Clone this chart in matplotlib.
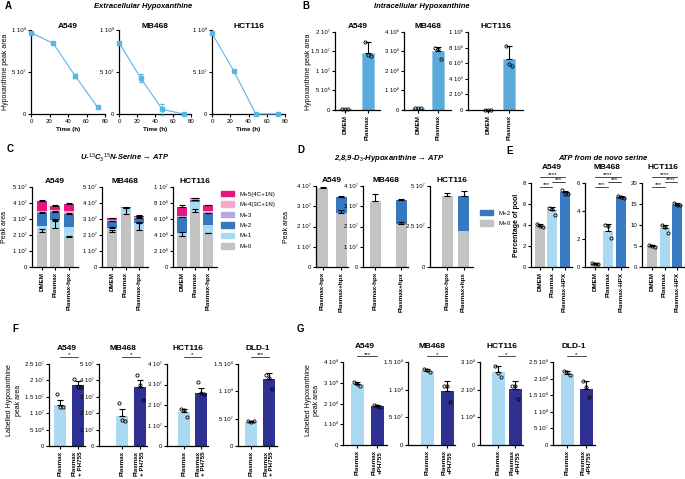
import numpy as np
import matplotlib
matplotlib.use("Agg")
import matplotlib.pyplot as plt
from matplotlib.patches import Patch

plt.rcParams['font.family'] = ['Liberation Sans', 'DejaVu Sans']
plt.rcParams['font.size'] = 4.5
plt.rcParams['axes.linewidth'] = 0.9
plt.rcParams['xtick.major.width'] = 0.8
plt.rcParams['ytick.major.width'] = 0.8
plt.rcParams['xtick.major.size'] = 2
plt.rcParams['ytick.major.size'] = 2
plt.rcParams['xtick.major.pad'] = 1.5
plt.rcParams['ytick.major.pad'] = 1.5
plt.rcParams['mathtext.fontset'] = 'custom'
plt.rcParams['mathtext.rm'] = 'Liberation Sans'
plt.rcParams['mathtext.it'] = 'Liberation Sans:italic:bold'
plt.rcParams['mathtext.bf'] = 'Liberation Sans:bold'

# ---------------- data ----------------
cells3 = ["A549", "MB468", "HCT116"]
cells4 = ["A549", "MB468", "HCT116", "DLD-1"]

# A: extracellular hypoxanthine over time
a_time = [0, 24, 48, 72]
a_vals = [[0.97e8, 0.84e8, 0.45e8, 0.08e8],
          [0.85e8, 0.43e8, 0.055e8, 0.0],
          [0.96e8, 0.51e8, 0.0, 0.0]]
a_err = [[0.01e8, 0.01e8, 0.025e8, 0.005e8],
         [0.01e8, 0.05e8, 0.07e8, 0.002e8],
         [0.01e8, 0.01e8, 0.002e8, 0.002e8]]

# B: intracellular hypoxanthine
b_groups = ["DMEM", "Plasmax"]
b_means = [[0.02e7, 1.45e7], [0.1e6, 3.0e6], [0.01e5, 6.6e5]]
b_err = [[0.0, 0.3e7], [0.0, 0.25e6], [0.0, 1.6e5]]
b_pts = [[[0.02e7, 0.02e7, 0.02e7], [1.75e7, 1.42e7, 1.38e7]],
         [[0.12e6, 0.1e6, 0.08e6], [3.2e6, 3.15e6, 2.6e6]],
         [[0.01e5, 0.01e5, 0.01e5], [8.2e5, 5.9e5, 5.6e5]]]
b_ymax = [2e7, 4e6, 1e6]
b_step = [0.5e7, 1e6, 2e5]

# C: serine -> ATP isotopologues (segments M+0..M+5)
c_groups = ["DMEM", "Plasmax", "Plasmax-hpx"]
c_labels = ["M+0", "M+1", "M+2", "M+3", "M+4(3C+1N)", "M+5(4C+1N)"]
c_seg = [
    [[2.2e7, 0.35e7, 0.85e7, 0.02e7, 0.08e7, 0.65e7],
     [2.45e7, 0.5e7, 0.5e7, 0.02e7, 0.08e7, 0.25e7],
     [1.9e7, 0.6e7, 0.8e7, 0.02e7, 0.18e7, 0.45e7]],
    [[2.2e7, 0.25e7, 0.4e7, 0.01e7, 0.06e7, 0.13e7],
     [3.3e7, 0.4e7, 0.02e7, 0.0, 0.0, 0.0],
     [2.3e7, 0.45e7, 0.3e7, 0.01e7, 0.06e7, 0.08e7]],
    [[3.9e6, 0.4e6, 1.9e6, 0.02e6, 0.13e6, 1.15e6],
     [6.9e6, 1.2e6, 0.25e6, 0.02e6, 0.08e6, 0.15e6],
     [4.2e6, 1.1e6, 1.4e6, 0.02e6, 0.28e6, 0.7e6]]]
c_err = [
    [[0.15e7, 0.0, 0.05e7, 0.0, 0.0, 0.05e7],
     [0.4e7, 0.05e7, 0.05e7, 0.0, 0.0, 0.05e7],
     [0.05e7, 0.0, 0.05e7, 0.0, 0.0, 0.05e7]],
    [[0.1e7, 0.05e7, 0.05e7, 0.0, 0.0, 0.03e7],
     [0.4e7, 0.02e7, 0.0, 0.0, 0.0, 0.0],
     [0.45e7, 0.05e7, 0.05e7, 0.0, 0.0, 0.03e7]],
    [[0.5e6, 0.0, 0.1e6, 0.0, 0.0, 0.2e6],
     [0.3e6, 0.0, 0.05e6, 0.0, 0.0, 0.05e6],
     [0.1e6, 0.0, 0.1e6, 0.0, 0.0, 0.1e6]]]
c_ymax = [5e7, 5e7, 1e7]
c_step = [1e7, 1e7, 2e6]

# D: D3-hypoxanthine -> ATP
d_groups = ["Plasmax-hpx", "Plasmax+hpx"]
d_m0 = [[3.9e7, 2.65e7], [3.25e7, 2.1e7], [4.4e7, 2.2e7]]
d_m2 = [[0.0, 0.8e7], [0.0, 1.2e7], [0.0, 2.2e7]]
d_m0_err = [[0.05e7, 0.15e7], [0.35e7, 0.12e7], [0.15e7, 0.0]]
d_m2_err = [[0.0, 0.05e7], [0.0, 0.05e7], [0.0, 0.3e7]]
d_ymax = [4e7, 4e7, 5e7]
d_step = [1e7, 1e7, 2.5e7]

# E: ATP from de novo serine (% of pool)
e_groups = ["DMEM", "Plasmax", "Plasmax-HPX"]
e_means = [[3.9, 5.4, 7.1], [0.25, 2.6, 5.0], [5.0, 9.2, 14.8]]
e_err = [[0.15, 0.3, 0.15], [0.05, 0.5, 0.1], [0.2, 0.8, 0.4]]
e_pts = [[[4.1, 3.9, 3.8], [5.6, 5.5, 5.0], [7.3, 7.0, 7.0]],
         [[0.3, 0.25, 0.2], [3.0, 2.9, 2.1], [5.1, 5.0, 4.9]],
         [[5.2, 4.9, 4.8], [10.0, 9.6, 8.2], [15.3, 14.8, 14.7]]]
e_ymax = [8, 6, 20]
e_step = [2, 2, 5]
e_sig = [("***", 0, 1), ("****", 0, 2), ("***", 1, 2)]
e_sig_hct = [("***", 0, 1), ("****", 0, 2), ("****", 1, 2)]

# F: labelled hypoxanthine (PH755)
f_groups = ["Plasmax", "Plasmax\n+ PH755"]
f_means = [[1.25e7, 1.85e7], [1.85e7, 3.6e7], [1.65e7, 2.6e7], [4.4e7, 1.22e8]]
f_err = [[0.15e7, 0.12e7], [0.4e7, 0.4e7], [0.15e7, 0.25e7], [0.2e7, 0.12e8]]
f_pts = [[[1.6e7, 1.2e7, 1.2e7], [2.05e7, 1.8e7, 1.8e7]],
         [[2.6e7, 1.6e7, 1.5e7], [4.3e7, 3.75e7, 2.8e7]],
         [[1.8e7, 1.75e7, 1.4e7], [3.1e7, 2.6e7, 2.55e7]],
         [[4.6e7, 4.3e7, 4.5e7], [1.3e8, 1.25e8, 1.05e8]]]
f_ymax = [2.5e7, 5e7, 4e7, 1.5e8]
f_step = [5e6, 1e7, 1e7, 5e7]
f_sig = ["*", "*", "*", "***"]

# G: labelled hypoxanthine (PH755), second set
g_groups = ["Plasmax", "Plasmax\n+PH755"]
g_means = [[2.95e8, 1.9e8], [1.33e8, 0.97e8], [2.65e8, 2.02e8], [2.15e8, 1.68e8]]
g_err = [[0.08e8, 0.03e8], [0.04e8, 0.18e8], [0.2e8, 0.3e8], [0.08e8, 0.25e8]]
g_pts = [[[3.05e8, 2.95e8, 2.85e8], [1.95e8, 1.9e8, 1.85e8]],
         [[1.37e8, 1.36e8, 1.32e8], [1.07e8, 1.07e8, 0.78e8]],
         [[2.85e8, 2.6e8, 2.45e8], [2.15e8, 2.15e8, 1.65e8]],
         [[2.22e8, 2.2e8, 2.12e8], [1.92e8, 1.75e8, 1.45e8]]]
g_ymax = [4e8, 1.5e8, 3e8, 2.5e8]
g_step = [1e8, 5e7, 1e8, 5e7]
g_sig = ["***", "*", "*", "*"]

# ---------------- styling ----------------
W, H = 685, 479
fig = plt.figure(figsize=(W / 100, H / 100), dpi=100)

line_blue = "#5ab4e6"
bar_blue = "#5aaadb"
iso_colors = ["#c3c3c3", "#a9daf1", "#3678c0", "#b7a6e4", "#f5a8cc", "#e4177f"]
e_colors = ["#c3c3c3", "#a9daf1", "#3a7cc3"]
f_colors = ["#a9daf1", "#2e3192"]

SUP = str.maketrans("0123456789-", "⁰¹²³⁴⁵⁶⁷⁸⁹⁻")


def sci(v):
    if v == 0:
        return "0"
    e = int(np.floor(np.log10(abs(v)) + 1e-9))
    m = v / 10 ** e
    return f"{m:g} 10" + str(e).translate(SUP)


def ftext(x, y, s, **kw):
    fig.text(x / W, 1 - y / H, s, **kw)


def px_axes(l, r, t, b):
    ax = fig.add_axes([l / W, 1 - b / H, (r - l) / W, (b - t) / H])
    ax.spines['top'].set_visible(False)
    ax.spines['right'].set_visible(False)
    return ax


def bar_axes(l, r, t, b, c0, c1, n=2):
    # c0: centre of first bar, c1: centre of last bar (pixels)
    ax = px_axes(l, r, t, b)
    unit = (c1 - c0) / (n - 1)
    ax.set_xlim((l - c0) / unit, (r - c0) / unit)
    return ax, unit


def yticks(ax, ymax, step):
    ticks = np.arange(0, ymax + step / 2, step)
    ax.set_ylim(0, ymax)
    ax.set_yticks(ticks)
    ax.set_yticklabels([sci(t) for t in ticks], fontsize=4.3)


def xcats(ax, labels):
    ax.set_xticks(range(len(labels)))
    ax.set_xticklabels(labels, rotation=90, fontsize=4.5, fontweight="bold")


def dots(ax, x, pts, unit):
    offs = np.array([-3.0, 0.0, 3.0]) / unit
    ax.plot(x + offs[:len(pts)], pts, "o", ms=2.3, mfc="none", mec="k", mew=0.6,
            clip_on=False, zorder=5)


def err_up(ax, x, y, e):
    if e > 0:
        ax.errorbar(x, y, yerr=[[0], [e]], fmt="none", ecolor="k", elinewidth=0.8,
                    capsize=2, capthick=0.8, zorder=4, clip_on=False)


def sig(ax, x0, x1, yfrac, s):
    tr = ax.get_xaxis_transform()
    ax.plot([x0, x1], [yfrac, yfrac], color="k", lw=0.5, transform=tr, clip_on=False)
    ax.text((x0 + x1) / 2, yfrac - 0.005, s, transform=tr, ha="center", va="bottom",
            fontsize=4.5, clip_on=False)


def title(ax, s, pad=3):
    ax.set_title(s, fontsize=6, fontweight="bold", pad=pad)


# ---------------- panel letters / headers ----------------
for (x, y, s) in [(5, 6, "A"), (302, 6, "B"), (7, 149, "C"), (297, 150, "D"),
                  (506, 151, "E"), (12, 329, "F"), (297, 329, "G")]:
    ftext(x, y, s, fontsize=7, fontweight="bold", ha="left", va="center")

hdr = dict(fontsize=5.5, style="italic", fontweight="bold", ha="center", va="center")
ftext(143, 6, "Extracellular Hypoxanthine", **hdr)
ftext(422, 6, "Intracellular Hypoxanthine", **hdr)
ftext(125, 158, "U-$^{13}$C$_3$$^{15}$N-Serine → ATP", **hdr)
ftext(389, 158, "2,8,9-D$_3$-Hypoxanthine → ATP", **hdr)
ftext(603, 158, "ATP from de novo serine", **hdr)

# ---------------- A ----------------
a_box = [(31, 105), (119, 191), (212, 285)]
for i, (l, r) in enumerate(a_box):
    ax = px_axes(l, r, 30, 114)
    ax.errorbar(a_time, a_vals[i], yerr=a_err[i], color=line_blue, marker="s", ms=2.2,
                lw=0.8, elinewidth=0.6, capsize=1.5, clip_on=False, zorder=3)
    ax.set_xlim(0, 80)
    ax.set_xticks([0, 20, 40, 60, 80])
    ax.tick_params(axis="x", labelsize=4.3)
    yticks(ax, 1e8, 5e7)
    ax.set_xlabel("Time (h)", fontsize=4.5, fontweight="bold", labelpad=2)
    title(ax, cells3[i], pad=0)
ftext(6, 72, "Hypoxanthine peak area", rotation=90, fontsize=5, ha="center", va="center")

# ---------------- B ----------------
b_box = [(335, 380, 345, 367.5), (404, 451, 418, 438), (468, 523, 488, 509)]
for i, (l, r, c0, c1) in enumerate(b_box):
    ax, unit = bar_axes(l, r, 32, 110, c0, c1)
    x = np.arange(2)
    ax.bar(x, b_means[i], width=12 / unit, color=bar_blue, edgecolor="#8cc6ea", lw=0.5)
    for j in range(2):
        err_up(ax, j, b_means[i][j], b_err[i][j])
        dots(ax, j, b_pts[i][j], unit)
    yticks(ax, b_ymax[i], b_step[i])
    xcats(ax, b_groups)
    title(ax, cells3[i])
ftext(309, 72, "Hypoxanthine peak area", rotation=90, fontsize=5, ha="center", va="center")

# ---------------- C ----------------
c_box = [(32, 78, 42, 69), (102, 148, 112, 139), (173, 217, 182, 208)]
for i, (l, r, c0, c2) in enumerate(c_box):
    ax, unit = bar_axes(l, r, 187, 267, c0, c2, n=3)
    x = np.arange(3)
    seg = np.array(c_seg[i])
    err = np.array(c_err[i])
    bottom = np.zeros(3)
    for k in range(6):
        ax.bar(x, seg[:, k], bottom=bottom, width=10 / unit, color=iso_colors[k], lw=0)
        top = bottom + seg[:, k]
        for j in range(3):
            err_up(ax, j, top[j], err[j, k])
        bottom = top
    yticks(ax, c_ymax[i], c_step[i])
    xcats(ax, c_groups)
    title(ax, cells3[i])
ftext(5, 227, "Peak area", rotation=90, fontsize=5, ha="center", va="center")
handles = [Patch(color=iso_colors[k], label=c_labels[k]) for k in range(5, -1, -1)]
fig.legend(handles=handles, loc="upper left", bbox_to_anchor=(221 / W, 1 - 191 / H),
           frameon=False, fontsize=4.4, handlelength=2.2, handleheight=1.0,
           labelspacing=0.75, handletextpad=0.8, borderaxespad=0, borderpad=0)

# ---------------- D ----------------
d_box = [(316, 348, 322.5, 341), (363, 408, 375, 401), (430, 473, 447, 463.5)]
for i, (l, r, c0, c1) in enumerate(d_box):
    ax, unit = bar_axes(l, r, 186, 267, c0, c1)
    x = np.arange(2)
    ax.bar(x, d_m0[i], width=11 / unit, color=iso_colors[0], lw=0)
    ax.bar(x, d_m2[i], bottom=d_m0[i], width=11 / unit, color=iso_colors[2], lw=0)
    for j in range(2):
        err_up(ax, j, d_m0[i][j], d_m0_err[i][j])
        err_up(ax, j, d_m0[i][j] + d_m2[i][j], d_m2_err[i][j])
    yticks(ax, d_ymax[i], d_step[i])
    xcats(ax, d_groups)
    title(ax, cells3[i])
ftext(287, 227, "Peak area", rotation=90, fontsize=5, ha="center", va="center")
handles = [Patch(color=iso_colors[2], label="M+2"), Patch(color=iso_colors[0], label="M+0")]
fig.legend(handles=handles, loc="upper left", bbox_to_anchor=(480 / W, 1 - 210 / H),
           frameon=False, fontsize=4.4, handlelength=2.2, handleheight=1.0,
           labelspacing=0.75, handletextpad=0.8, borderaxespad=0, borderpad=0)

# ---------------- E ----------------
e_box = [(531, 572, 540, 564.5), (585, 628, 595, 621), (642, 684, 652, 677)]
for i, (l, r, c0, c2) in enumerate(e_box):
    ax, unit = bar_axes(l, r, 183, 267, c0, c2, n=3)
    x = np.arange(3)
    ax.bar(x, e_means[i], width=10 / unit, color=e_colors, lw=0)
    for j in range(3):
        err_up(ax, j, e_means[i][j], e_err[i][j])
        dots(ax, j, e_pts[i][j], unit)
    ticks = np.arange(0, e_ymax[i] + 0.1, e_step[i])
    ax.set_ylim(0, e_ymax[i])
    ax.set_yticks(ticks)
    ax.set_yticklabels([f"{t:g}" for t in ticks], fontsize=4.3)
    xcats(ax, e_groups)
    ax.set_title(cells3[i], fontsize=6, fontweight="bold", pad=10)
    sigs = e_sig_hct if i == 2 else e_sig
    for (s, a, b), yf in zip(sigs, [0.952, 1.071, 1.012]):
        sig(ax, a, b, yf, s)
ftext(517, 225, "Percentage of pool", rotation=90, fontsize=5, fontweight="bold",
      ha="center", va="center")

# ---------------- F ----------------
f_box = [(49, 85, 60, 77.5), (99, 147, 122, 139.5), (167, 208, 184, 201), (238, 277, 251, 269)]
for i, (l, r, c0, c1) in enumerate(f_box):
    ax, unit = bar_axes(l, r, 364, 446, c0, c1)
    x = np.arange(2)
    ax.bar(x, f_means[i], width=12 / unit, color=f_colors, lw=0)
    for j in range(2):
        err_up(ax, j, f_means[i][j], f_err[i][j])
        dots(ax, j, f_pts[i][j], unit)
    yticks(ax, f_ymax[i], f_step[i])
    xcats(ax, f_groups)
    ax.set_title(cells4[i], fontsize=6, fontweight="bold", pad=10)
    sig(ax, 0, 1, 1.085, f_sig[i])
ftext(14, 400, "Labelled Hypoxanthine\npeak area", rotation=90, fontsize=5,
      ha="center", va="center")

# ---------------- G ----------------
g_box = [(343, 387, 357, 377), (408, 455, 427, 447), (480, 523, 498, 515), (553, 595, 567, 586)]
for i, (l, r, c0, c1) in enumerate(g_box):
    ax, unit = bar_axes(l, r, 362, 445, c0, c1)
    x = np.arange(2)
    ax.bar(x, g_means[i], width=13 / unit, color=f_colors, lw=0)
    for j in range(2):
        err_up(ax, j, g_means[i][j], g_err[i][j])
        dots(ax, j, g_pts[i][j], unit)
    yticks(ax, g_ymax[i], g_step[i])
    xcats(ax, g_groups)
    ax.set_title(cells4[i], fontsize=6, fontweight="bold", pad=10)
    sig(ax, 0, 1, 1.07, g_sig[i])
ftext(312, 400, "Labelled Hypoxanthine\npeak area", rotation=90, fontsize=5,
      ha="center", va="center")

fig.savefig("out.png", dpi=100)
